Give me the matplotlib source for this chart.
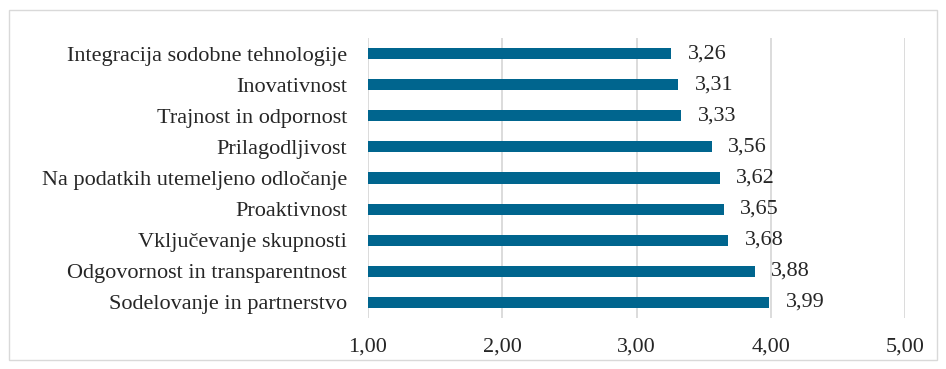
import matplotlib
matplotlib.use("Agg")
import matplotlib.pyplot as plt
from matplotlib.patches import Rectangle

categories = [
    "Integracija sodobne tehnologije",
    "Inovativnost",
    "Trajnost in odpornost",
    "Prilagodljivost",
    "Na podatkih utemeljeno odločanje",
    "Proaktivnost",
    "Vključevanje skupnosti",
    "Odgovornost in transparentnost",
    "Sodelovanje in partnerstvo",
]
values = [3.26, 3.31, 3.33, 3.56, 3.62, 3.65, 3.68, 3.88, 3.99]
xticks = [1.0, 2.0, 3.0, 4.0, 5.0]
base = 1.0

plt.rcParams['font.family'] = ['Liberation Serif', 'DejaVu Serif']

fig = plt.figure(figsize=(9.46, 3.69), dpi=100)
ax = fig.add_axes([368/946, 1-318/369, (905-368)/946, (318-38)/369])

ypos = list(range(len(categories)))
ax.barh(ypos, [v - base for v in values], left=base, height=0.36, color='#00658E')
for y, v in zip(ypos, values):
    ax.annotate(f"{v:.2f}".replace('.', ','), xy=(v, y), xytext=(12, 0),
                textcoords='offset points', va='center', ha='left',
                fontsize=16, color='#262626')

ax.set_xlim(1, 5)
ax.set_ylim(len(categories) - 0.5, -0.5)
ax.set_yticks(ypos)
ax.set_yticklabels(categories, fontsize=16, color='#262626')
ax.set_xticks(xticks)
ax.set_xticklabels([f"{t:.2f}".replace('.', ',') for t in xticks], fontsize=16, color='#262626')
ax.tick_params(axis='both', length=0)
ax.tick_params(axis='x', pad=14)
ax.tick_params(axis='y', pad=15)
ax.xaxis.grid(True, color='#d9d9d9', linewidth=1.3)
ax.set_axisbelow(True)
for s in ax.spines.values():
    s.set_visible(False)

fig.patches.append(Rectangle((9/946, 1-360/369), (937-9)/946, (360-10)/369,
                             transform=fig.transFigure, fill=False,
                             edgecolor='#d9d9d9', linewidth=1))

fig.savefig("out.png", dpi=100)
